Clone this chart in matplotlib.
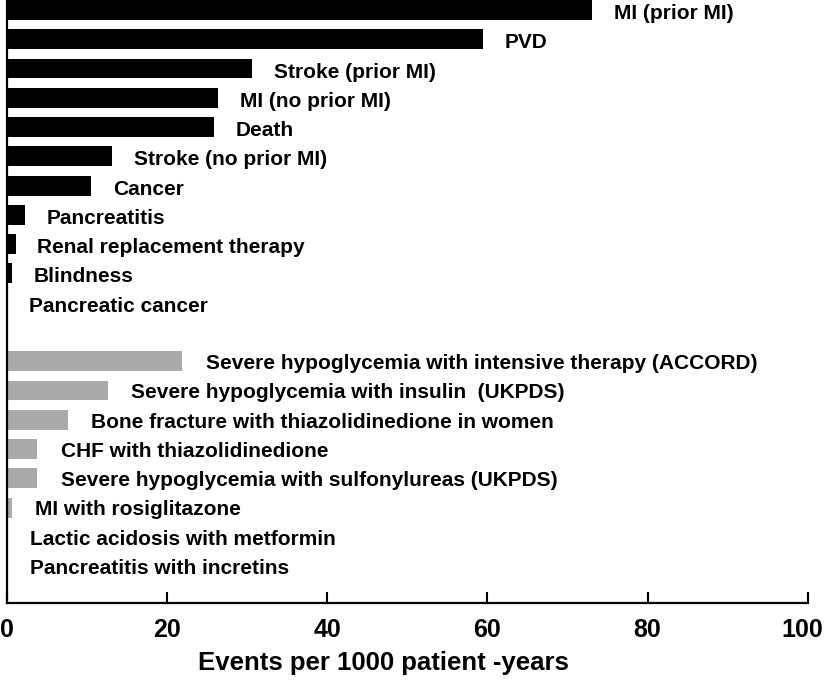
import numpy as np
import matplotlib
matplotlib.use('Agg')
import matplotlib.pyplot as plt
import matplotlib.transforms as mtransforms

# Datos: eventos por 1000 pacientes-año
complicaciones = ['MI (prior MI)', 'PVD', 'Stroke (prior MI)', 'MI (no prior MI)', 'Death',
                  'Stroke (no prior MI)', 'Cancer', 'Pancreatitis', 'Renal replacement therapy',
                  'Blindness', 'Pancreatic cancer']
tasas_complicaciones = [73.1, 59.4, 30.6, 26.4, 25.8, 13.1, 10.5, 2.3, 1.1, 0.6, 0.1]

efectos_adversos = ['Severe hypoglycemia with intensive therapy (ACCORD)',
                    'Severe hypoglycemia with insulin  (UKPDS)',
                    'Bone fracture with thiazolidinedione in women',
                    'CHF with thiazolidinedione',
                    'Severe hypoglycemia with sulfonylureas (UKPDS)',
                    'MI with rosiglitazone',
                    'Lactic acidosis with metformin',
                    'Pancreatitis with incretins']
tasas_adversos = [21.9, 12.6, 7.6, 3.8, 3.8, 0.6, 0.0, 0.0]

ticks_x = [0, 20, 40, 60, 80, 100]

plt.rcParams['font.family'] = ['Liberation Sans', 'DejaVu Sans']

fig = plt.figure(figsize=(8.25, 6.85), dpi=100)
ax = fig.add_axes([0.0085, 0.1197, 0.9705, 0.8803])

pos1 = np.arange(len(complicaciones))
pos2 = np.arange(len(efectos_adversos)) + len(complicaciones) + 1

ax.barh(pos1, tasas_complicaciones, height=0.68, color='black')
ax.barh(pos2, tasas_adversos, height=0.68, color='#aaaaaa')

for p, v, t in zip(pos1, tasas_complicaciones, complicaciones):
    ax.text(v + 2.7, p + 0.12, t, fontsize=15, fontweight='bold', va='center', ha='left')
for p, v, t in zip(pos2, tasas_adversos, efectos_adversos):
    ax.text(v + 2.9, p + 0.08, t, fontsize=15, fontweight='bold', va='center', ha='left')

ax.set_xlim(0, 100)
ax.set_ylim(20.26, -0.34)
ax.set_xticks(ticks_x)
ax.set_yticks([])
for s in ['top', 'right']:
    ax.spines[s].set_visible(False)
ax.spines['left'].set_linewidth(1.6)
ax.spines['bottom'].set_linewidth(1.6)
ax.tick_params(axis='x', direction='in', length=8, width=1.5, pad=11)
for lbl in ax.get_xticklabels():
    lbl.set_fontweight('bold')
    lbl.set_fontsize(18)
# el "100" queda un poco hacia dentro
ultimo = ax.get_xticklabels()[-1]
ultimo.set_transform(ultimo.get_transform() +
                     mtransforms.ScaledTranslation(-0.05, 0, fig.dpi_scale_trans))
ax.set_xlabel('Events per 1000 patient -years', fontsize=18.5, fontweight='bold')
ax.xaxis.set_label_coords(0.47, -0.08)

plt.savefig('out.png')
